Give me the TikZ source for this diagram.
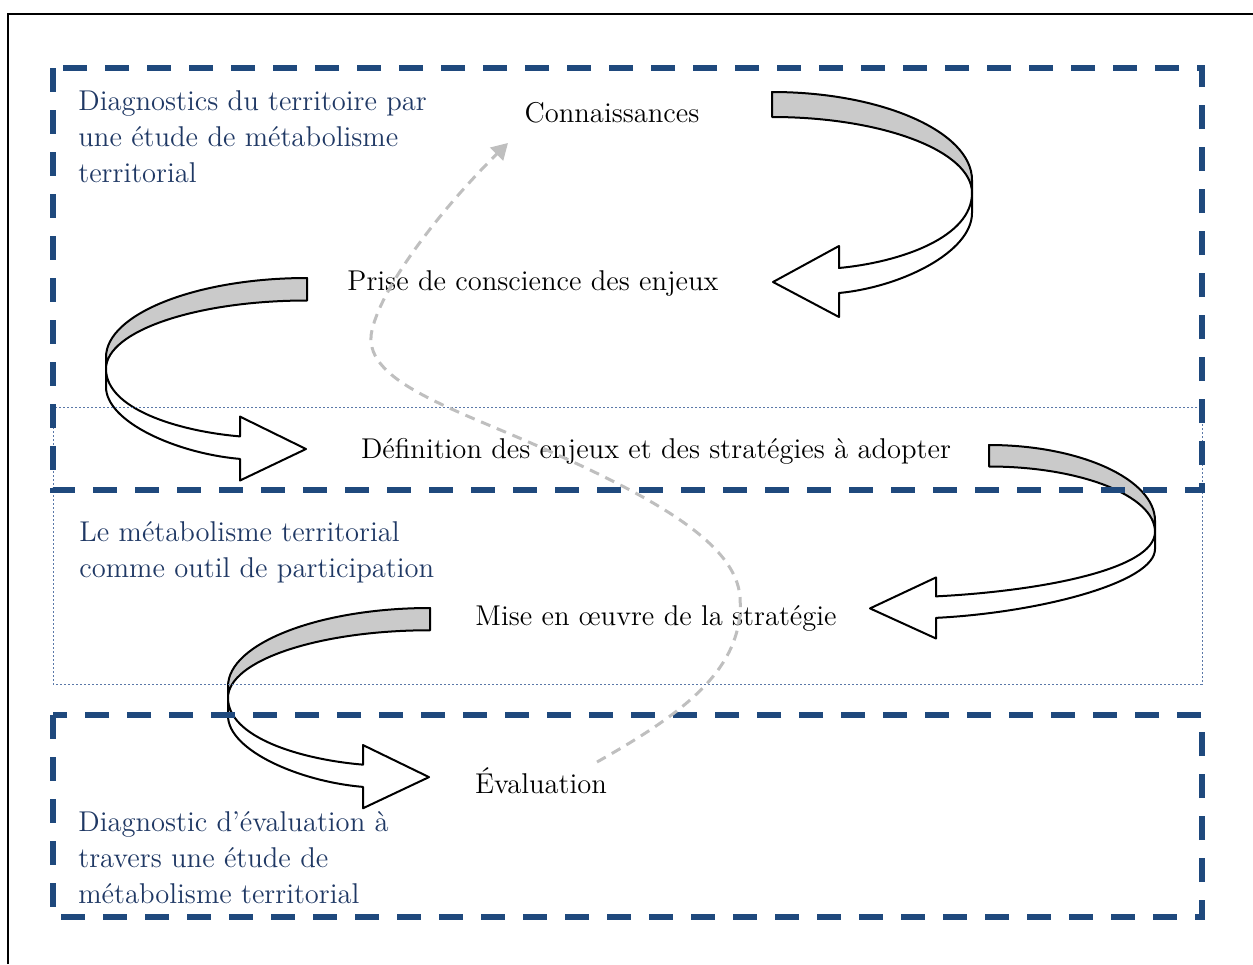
\documentclass[tikz,border=0pt]{standalone}
\usepackage{xcolor}
\usepackage{tikz}
\usetikzlibrary{arrows.meta}
\definecolor{zoneblue}{HTML}{1F497D}
\definecolor{zoneink}{HTML}{1F3864}
\definecolor{dotblue}{HTML}{5A78A8}
\definecolor{ribbongray}{HTML}{CACACA}
\definecolor{loopgray}{HTML}{BFBFBF}

% ribbon U-turn arrow: origin, direction (1 = turns right), turn width, head base x, y scale
\newcommand{\ribbonarrow}[5]{%
  \begin{scope}[shift={#1},xscale=#2,yscale=#5]
    \filldraw[ribbon,fill=ribbongray] (0,0) .. controls ({0.55*#3},0) and (#3,40) .. (#3,88)
      -- (#3,101) .. controls (#3,59) and ({0.55*#3},25) .. (0,25) -- cycle;
    \filldraw[ribbon,fill=white] (#3,101) .. controls (#3,145) and ({#4+0.47*(#3-#4)},170) .. (#4,176)
      -- (#4,154) -- ({#4-66},190) -- (#4,225) -- (#4,201)
      .. controls ({#4+0.47*(#3-#4)},195) and (#3,160) .. (#3,121) -- cycle;
  \end{scope}}

\begin{document}
\begin{tikzpicture}[
  x=0.5pt,y=-0.5pt,
  >=Latex,
  ribbon/.style={draw=black,line width=1pt,line join=round},
  zonebox/.style={draw=zoneblue,line width=3pt,dash pattern=on 12pt off 9pt},
  focusbox/.style={draw=dotblue,line width=0.5pt,dash pattern=on 1pt off 1pt},
  stagetext/.style={anchor=base,inner sep=0pt,font=\fontsize{14.3}{18}\selectfont},
  zonetext/.style={anchor=base west,inner sep=0pt,align=left,text=zoneink,
    font=\fontsize{14.3}{18}\selectfont},
  feedback/.style={-{Triangle[length=8pt,width=9pt]},draw=loopgray,fill=none,
    line width=1.5pt,dash pattern=on 5pt off 3.5pt},
  frame/.style={draw=black,line width=1pt}
]
  \useasboundingbox (0,0) rectangle (1253,964);

  % ribbon arrows
  \ribbonarrow{(772,92)}{1}{200}{67}{1}
  \ribbonarrow{(307,278)}{-1}{201}{67}{0.9}
  \ribbonarrow{(989,445)}{1}{166}{-53}{0.86}
  \ribbonarrow{(430,608)}{-1}{202}{67}{0.89}

  % zones
  \draw[focusbox] (53,407) rectangle (1202,684);
  \draw[zonebox] (53,68) rectangle (1202,490);
  \draw[zonebox] (53,715) rectangle (1202,917);

  % stages
  \node[stagetext] (connaissances) at (612,122) {Connaissances};
  \node[stagetext] (prise) at (533,290) {Prise de conscience des enjeux};
  \node[stagetext] (definition) at (656,458) {Définition des enjeux et des stratégies à adopter};
  \node[stagetext] (miseoeuvre) at (656,625) {Mise en œuvre de la stratégie};
  \node[stagetext] (evaluation) at (541,793) {Évaluation};

  % zone labels (base = last line)
  \node[zonetext] (diagterr) at (78,182) {Diagnostics du territoire par\\une étude de métabolisme\\territorial};
  \node[zonetext] (participation) at (79,577) {Le métabolisme territorial\\comme outil de participation};
  \node[zonetext] (diageval) at (78,903) {Diagnostic d’évaluation à\\travers une étude de\\métabolisme territorial};

  % feedback loop
  \coordinate (loopstart) at (597,762);
  \coordinate (loopend) at (508,143);
  \draw[feedback] (loopstart) .. controls (680,715) and (745,670) .. (740,597)
    .. controls (736,545) and (660,500) .. (540,447)
    .. controls (450,407) and (360,380) .. (372,330)
    .. controls (384,280) and (450,200) .. (loopend);

  % frame
  \draw[frame] (8,964) -- (8,14) -- (1253,14);
\end{tikzpicture}
\end{document}
